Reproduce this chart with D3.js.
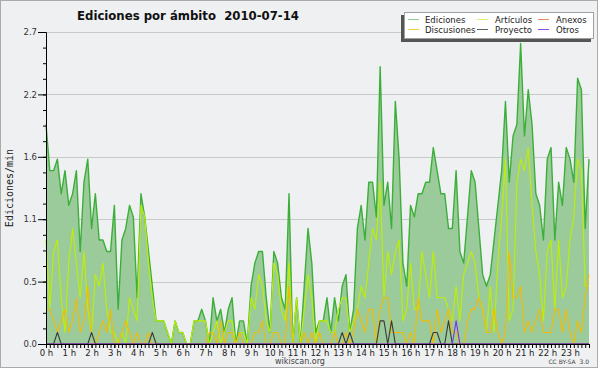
<!DOCTYPE html>
<html>
<head>
<meta charset="utf-8">
<script src="https://cdn.jsdelivr.net/npm/d3@7"></script>
<style>
  body { margin: 0; background: #fff; }
  svg text { font-family: "DejaVu Sans", sans-serif; }
</style>
</head>
<body>
<div id="chart"></div>
<script>
// valeurs (éditions/min, pas de 10 min, 144 points)
const ediciones = [
  1.9,1.5,1.5,1.6,1.3,1.5,1.2,1.3,1.5,0.8,1.4,1.6,
  1.0,1.3,0.9,0.9,0.8,0.8,1.2,0.3,0.9,1.0,1.2,1.1,
  0.4,1.3,1.1,0.8,0.5,0.2,0.2,0.2,0.1,0.0,0.2,0.1,
  0.1,0.0,0.0,0.2,0.2,0.3,0.2,0.0,0.4,0.2,0.3,0.1,
  0.3,0.4,0.0,0.2,0.2,0.0,0.5,0.7,0.8,0.8,0.4,0.1,
  0.8,0.7,0.4,0.3,1.3,0.0,0.4,0.0,0.5,1.0,0.7,0.1,
  0.2,0.2,0.4,0.1,0.4,0.2,0.5,0.6,0.1,0.3,1.0,1.2,
  0.9,1.4,1.4,1.1,2.4,1.2,1.4,1.0,2.1,1.6,0.7,0.5,
  1.2,1.1,1.3,1.3,1.4,1.4,1.7,1.5,1.3,1.3,1.0,1.0,
  1.5,0.8,0.7,1.1,1.5,1.4,1.0,0.6,0.5,0.6,0.9,1.2,
  1.5,2.1,1.4,1.8,1.9,2.6,1.8,2.2,1.9,1.3,1.2,0.9,
  1.6,1.7,0.9,1.4,1.2,1.7,1.6,1.4,2.3,2.2,1.0,1.6
];
const articulos = [
  0.9,0.3,0.8,0.9,0.4,0.1,0.7,1.0,0.7,0.4,0.8,0.3,
  0.1,0.6,0.5,0.7,0.3,0.1,0.1,0.0,0.1,0.0,0.4,0.3,
  0.2,1.2,1.1,0.7,0.4,0.2,0.2,0.2,0.1,0.0,0.2,0.1,
  0.1,0.0,0.0,0.2,0.2,0.2,0.2,0.0,0.1,0.2,0.0,0.1,
  0.2,0.2,0.0,0.1,0.1,0.0,0.4,0.3,0.6,0.5,0.2,0.1,
  0.7,0.6,0.3,0.2,0.7,0.0,0.4,0.0,0.3,0.6,0.4,0.0,
  0.2,0.2,0.2,0.1,0.1,0.3,0.4,0.4,0.1,0.2,0.3,0.5,
  0.4,0.7,1.0,0.9,1.4,0.4,0.8,0.6,0.8,0.9,0.2,0.3,
  0.7,0.3,0.3,0.8,0.6,0.4,0.8,0.4,0.4,0.4,0.3,0.2,
  0.5,0.2,0.6,0.7,0.8,0.7,0.4,0.3,0.1,0.5,0.1,0.7,
  1.1,1.6,0.2,0.3,1.4,1.6,1.5,1.7,1.2,0.8,0.6,0.2,
  0.8,0.9,0.3,0.9,0.4,0.5,0.9,1.1,1.6,1.5,0.5,0.5
];
const anexos = [
  0,0,0,0,0,0,0,0,0,0,0,0, 0,0,0,0,0,0,0,0,0,0,0,0,
  0,0,0,0,0,0,0,0,0,0,0,0, 0,0,0,0,0,0,0,0,0,0,0,0,
  0,0,0,0,0,0,0,0,0,0,0,0, 0,0,0,0,0,0,0,0,0,0,0,0,
  0,0,0,0,0,0,0,0,0,0,0,0, 0,0,0,0,0,0,0,0,0,0,0,0,
  0,0,0,0,0,0,0,0,0,0,0,0, 0,0,0,0,0,0,0,0,0,0,0,0,
  0,0,0,0,0,0,0,0,0,0,0,0, 0,0,0,0,0,0,0,0,0,0,0,0
];
const discusiones = [
  0.3,0.3,0.2,0.1,0.2,0.3,0.1,0.2,0.4,0.1,0.2,0.5,
  0.1,0.0,0.1,0.2,0.1,0.3,0.0,0.0,0.1,0.2,0.1,0.0,
  0.1,0.0,0.0,0.1,0.0,0.0,0.0,0.0,0.0,0.0,0.0,0.0,
  0.0,0.0,0.0,0.0,0.0,0.0,0.0,0.1,0.1,0.0,0.2,0.0,
  0.1,0.1,0.0,0.1,0.0,0.0,0.0,0.1,0.1,0.2,0.0,0.0,
  0.1,0.1,0.0,0.0,0.5,0.0,0.0,0.0,0.1,0.0,0.1,0.0,
  0.1,0.0,0.0,0.0,0.1,0.0,0.0,0.1,0.0,0.1,0.3,0.2,
  0.1,0.3,0.3,0.0,0.3,0.4,0.4,0.1,0.1,0.1,0.1,0.0,
  0.1,0.0,0.4,0.2,0.2,0.2,0.0,0.3,0.1,0.2,0.3,0.1,
  0.1,0.0,0.0,0.2,0.3,0.3,0.4,0.3,0.1,0.1,0.3,0.1,
  0.0,0.1,0.8,0.4,0.4,0.5,0.1,0.2,0.1,0.2,0.3,0.1,
  0.1,0.1,0.3,0.3,0.1,0.3,0.1,0.0,0.2,0.1,0.4,0.6
];
const proyecto = [
  0,0,0,0.1,0,0,0,0,0,0,0,0, 0.1,0,0,0,0,0,0,0,0,0,0,0,
  0,0,0,0,0.1,0,0,0,0,0,0,0, 0,0,0,0,0,0,0,0,0,0,0,0,
  0,0,0,0,0,0,0,0,0,0,0,0, 0,0,0,0,0,0,0,0,0,0,0,0,
  0,0,0,0,0,0,0.1,0,0.1,0,0,0, 0,0,0,0,0.2,0.2,0,0.2,0,0,0,0,
  0,0,0,0,0,0,0.1,0.1,0,0,0.2,0, 0,0,0,0,0,0,0,0,0,0,0,0,
  0,0,0,0,0,0,0,0,0,0,0,0, 0,0,0,0,0,0,0,0,0,0,0,0
];
const otros = [
  0,0,0,0,0,0,0,0,0,0,0,0, 0,0,0,0,0,0,0,0,0,0,0,0,
  0,0,0,0,0,0,0,0,0,0,0,0, 0,0,0,0,0,0,0,0,0,0,0,0,
  0,0,0,0,0,0,0,0,0,0,0,0, 0,0,0,0,0,0,0,0,0,0,0,0,
  0,0,0,0,0,0,0,0,0,0,0,0, 0,0,0,0,0,0,0,0,0,0,0,0,
  0,0,0,0,0,0,0,0,0,0,0,0, 0.2,0,0,0,0,0,0,0,0,0,0,0,
  0,0,0,0,0,0,0,0,0,0,0,0, 0,0,0,0,0,0,0,0,0,0,0,0
];

const heures = ["0 h","1 h","2 h","3 h","4 h","5 h","6 h","7 h","8 h","9 h","10 h","11 h",
                "12 h","13 h","14 h","15 h","16 h","17 h","18 h","19 h","20 h","21 h","22 h","23 h"];
const yTicks = [0, 0.54, 1.08, 1.62, 2.16, 2.7];
const yTickLabels = ["0.0", "0.5", "1.1", "1.6", "2.2", "2.7"];
const legende = ["Ediciones", "Artículos", "Anexos", "Discusiones", "Proyecto", "Otros"];

const couleurs = {
  Ediciones: "#3caf3a", Artículos: "#bdf000", Anexos: "#f07848",
  Discusiones: "#f2bb00", Proyecto: "#3a3a3a", Otros: "#7a2ff0"
};
const couleursLegende = {
  Ediciones: "#88d488", Artículos: "#d6f070", Anexos: "#f08a60",
  Discusiones: "#f6d040", Proyecto: "#606060", Otros: "#9050e8"
};

const svg = d3.select("#chart").append("svg")
  .attr("width", 600).attr("height", 370);

// cadre gris
svg.append("rect")
  .attr("x", 0.5).attr("y", 0.5).attr("width", 597).attr("height", 367)
  .attr("fill", "#eff0f1").attr("stroke", "#ababab");

const x = d3.scaleLinear().domain([0, ediciones.length - 1]).range([46, 589]);
const y = d3.scaleLinear().domain([0, 2.7]).range([344, 32]);

// grille horizontale
svg.append("g").selectAll("line").data(yTicks.slice(1)).join("line")
  .attr("x1", x(0)).attr("x2", x(ediciones.length - 1))
  .attr("y1", d => Math.round(y(d)) + 0.5).attr("y2", d => Math.round(y(d)) + 0.5)
  .attr("stroke", "#c9c9c9");

// aire des éditions
const aire = d3.area().x((d, i) => x(i)).y0(y(0)).y1(d => y(d));
const ligne = d3.line().x((d, i) => x(i)).y(d => y(d));

svg.append("path").datum(ediciones)
  .attr("d", aire).attr("fill", "#9ccb9b");

const series = [
  ["Ediciones", ediciones, 1.4],
  ["Artículos", articulos, 1.1],
  ["Anexos", anexos, 1.1],
  ["Discusiones", discusiones, 1.1],
  ["Proyecto", proyecto, 1.1],
  ["Otros", otros, 1.1]
];
series.forEach(([nom, vals, ep]) => {
  svg.append("path").datum(vals)
    .attr("d", ligne).attr("fill", "none")
    .attr("stroke", couleurs[nom]).attr("stroke-width", ep)
    .attr("stroke-linejoin", "round");
});

// axe Y
const axeY = d3.axisLeft(y).tickValues(yTicks)
  .tickFormat((d, i) => yTickLabels[i]).tickSize(8).tickSizeOuter(0);
const gY = svg.append("g").attr("transform", "translate(46,0)").call(axeY);
const axeYmin = d3.axisLeft(y).tickValues(d3.range(0, 2.71, 0.135))
  .tickFormat("").tickSize(3).tickSizeOuter(0);
svg.append("g").attr("transform", "translate(46,0)").call(axeYmin);

// axe X
const axeXmin = d3.axisBottom(x).tickValues(d3.range(0, ediciones.length))
  .tickFormat("").tickSize(4).tickSizeOuter(0);
svg.append("g").attr("transform", "translate(0,344)").call(axeXmin);
const axeX = d3.axisBottom(x).tickValues(heures.map((h, i) => i * 6))
  .tickFormat((d, i) => heures[i]).tickSize(4).tickSizeOuter(0);
const gX = svg.append("g").attr("transform", "translate(0,344)").call(axeX);

svg.selectAll(".domain").attr("stroke", "#000");
svg.selectAll(".tick line").attr("stroke", "#000");
gY.selectAll("text").attr("font-size", 8.5).attr("fill", "#333").attr("x", -9)
  .attr("font-family", "DejaVu Sans");
gX.selectAll("text").attr("font-size", 8.5).attr("fill", "#222").attr("y", 6)
  .attr("font-family", "DejaVu Sans");

// titres
svg.append("text").attr("x", 188).attr("y", 20).attr("text-anchor", "middle")
  .attr("font-size", 13).attr("font-weight", "bold").attr("fill", "#111")
  .style("font-family", "'DejaVu Sans Condensed', 'DejaVu Sans'")
  .style("font-stretch", "condensed")
  .attr("xml:space", "preserve")
  .text("Ediciones por ámbito  2010-07-14");

svg.append("text").attr("transform", "translate(13,188) rotate(-90)")
  .attr("text-anchor", "middle").attr("font-size", 10).attr("fill", "#222")
  .style("font-family", "'DejaVu Sans Mono', monospace")
  .text("Ediciones/min");

svg.append("text").attr("x", 300).attr("y", 364).attr("text-anchor", "middle")
  .attr("font-size", 8).attr("fill", "#444").text("wikiscan.org");

svg.append("text").attr("x", 589).attr("y", 364).attr("text-anchor", "end")
  .attr("font-size", 6).attr("fill", "#444").attr("xml:space", "preserve")
  .text("CC BY-SA  3.0");

// légende
const leg = svg.append("g");
leg.append("rect").attr("x", 401).attr("y", 15).attr("width", 190).attr("height", 27)
  .attr("fill", "#555");
leg.append("rect").attr("x", 404.5).attr("y", 12.5).attr("width", 189).attr("height", 26)
  .attr("fill", "#fff").attr("stroke", "#a0a0a0");
const colX = [408, 477, 538];
legende.forEach((nom, i) => {
  const cx = colX[i % 3];
  const cy = 19.5 + Math.floor(i / 3) * 10;
  leg.append("line").attr("x1", cx).attr("x2", cx + 11).attr("y1", cy).attr("y2", cy)
    .attr("stroke", couleursLegende[nom]);
  leg.append("text").attr("x", cx + (i % 3 == 0 ? 17 : 18)).attr("y", cy + 3.5)
    .attr("font-size", 8.5).attr("fill", "#222").text(nom);
});
</script>
</body>
</html>
